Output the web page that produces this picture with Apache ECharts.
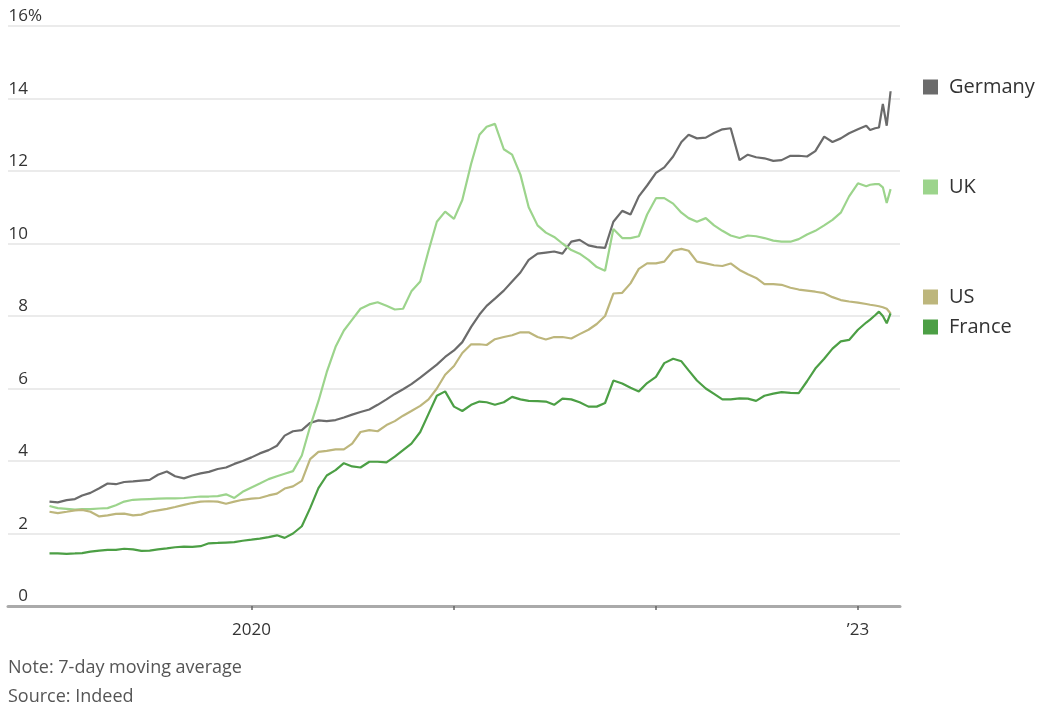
<!DOCTYPE html>
<html>
<head>
<meta charset="utf-8">
<script src="https://cdn.jsdelivr.net/npm/echarts@6/dist/echarts.min.js"></script>
<style>
  html, body { margin: 0; padding: 0; background: #fff; }
  #jobs-chart { width: 1040px; height: 708px; }
</style>
</head>
<body>
<div id="jobs-chart"></div>
<script>
// twice a month, weekly at the very end
const dates = [
  '2019-01-01', '2019-01-16', '2019-02-01', '2019-02-16', '2019-03-01', '2019-03-16', '2019-04-01', '2019-04-16', '2019-05-01', '2019-05-16', '2019-06-01', '2019-06-16',
  '2019-07-01', '2019-07-16', '2019-08-01', '2019-08-16', '2019-09-01', '2019-09-16', '2019-10-01', '2019-10-16', '2019-11-01', '2019-11-16', '2019-12-01', '2019-12-16',
  '2020-01-01', '2020-01-16', '2020-02-01', '2020-02-16', '2020-03-01', '2020-03-16', '2020-04-01', '2020-04-16', '2020-05-01', '2020-05-16', '2020-06-01', '2020-06-16',
  '2020-07-01', '2020-07-16', '2020-08-01', '2020-08-16', '2020-09-01', '2020-09-16', '2020-10-01', '2020-10-16', '2020-11-01', '2020-11-16', '2020-12-01', '2020-12-16',
  '2021-01-01', '2021-01-16', '2021-02-01', '2021-02-16', '2021-03-01', '2021-03-16', '2021-04-01', '2021-04-16', '2021-05-01', '2021-05-16', '2021-06-01', '2021-06-16',
  '2021-07-01', '2021-07-16', '2021-08-01', '2021-08-16', '2021-09-01', '2021-09-16', '2021-10-01', '2021-10-16', '2021-11-01', '2021-11-16', '2021-12-01', '2021-12-16',
  '2022-01-01', '2022-01-16', '2022-02-01', '2022-02-16', '2022-03-01', '2022-03-16', '2022-04-01', '2022-04-16', '2022-05-01', '2022-05-16', '2022-06-01', '2022-06-16',
  '2022-07-01', '2022-07-16', '2022-08-01', '2022-08-16', '2022-09-01', '2022-09-16', '2022-10-01', '2022-10-16', '2022-11-01', '2022-11-16', '2022-12-01', '2022-12-16',
  '2023-01-01', '2023-01-16', '2023-01-23', '2023-02-01', '2023-02-08', '2023-02-15', '2023-02-22', '2023-03-01'
]

const germany = [
  2.88, 2.86, 2.92, 2.95, 3.05, 3.12, 3.25, 3.38, 3.36, 3.42, 3.44, 3.46,
  3.48, 3.62, 3.71, 3.58, 3.52, 3.6, 3.66, 3.7, 3.78, 3.82, 3.92, 4.0,
  4.1, 4.21, 4.3, 4.42, 4.7, 4.82, 4.85, 5.05, 5.12, 5.1, 5.13, 5.2,
  5.28, 5.35, 5.42, 5.55, 5.7, 5.85, 5.98, 6.12, 6.3, 6.48, 6.66, 6.87,
  7.05, 7.28, 7.7, 8.04, 8.28, 8.48, 8.7, 8.95, 9.2, 9.55, 9.72, 9.75,
  9.78, 9.72, 10.05, 10.1, 9.95, 9.9, 9.88, 10.6, 10.9, 10.8, 11.3, 11.6,
  11.95, 12.1, 12.4, 12.8, 13.0, 12.9, 12.92, 13.05, 13.15, 13.18, 12.3, 12.45,
  12.38, 12.35, 12.28, 12.3, 12.42, 12.42, 12.4, 12.55, 12.95, 12.8, 12.9, 13.04,
  13.15, 13.25, 13.13, 13.18, 13.2, 13.85, 13.25, 14.2
]

const uk = [
  2.76, 2.7, 2.68, 2.66, 2.67, 2.67, 2.69, 2.7, 2.78, 2.88, 2.93, 2.94,
  2.95, 2.96, 2.97, 2.97, 2.98, 3.0, 3.02, 3.02, 3.03, 3.08, 2.98, 3.15,
  3.27, 3.38, 3.5, 3.58, 3.65, 3.72, 4.15, 4.95, 5.65, 6.45, 7.15, 7.6,
  7.9, 8.2, 8.32, 8.38, 8.28, 8.18, 8.2, 8.68, 8.95, 9.8, 10.6, 10.88,
  10.68, 11.2, 12.2, 13.0, 13.22, 13.3, 12.6, 12.45, 11.9, 11.0, 10.5, 10.3,
  10.18, 10.0, 9.82, 9.72, 9.55, 9.35, 9.25, 10.4, 10.15, 10.15, 10.2, 10.8,
  11.25, 11.25, 11.1, 10.85, 10.7, 10.6, 10.7, 10.5, 10.35, 10.22, 10.15, 10.22,
  10.2, 10.15, 10.08, 10.05, 10.05, 10.12, 10.25, 10.35, 10.5, 10.65, 10.85, 11.3,
  11.66, 11.58, 11.62, 11.64, 11.64, 11.55, 11.12, 11.5
]

const us = [
  2.6, 2.56, 2.6, 2.64, 2.65, 2.6, 2.47, 2.5, 2.54, 2.55, 2.5, 2.52,
  2.6, 2.64, 2.68, 2.73, 2.79, 2.84, 2.88, 2.89, 2.88, 2.82, 2.88, 2.93,
  2.96, 2.98, 3.05, 3.1, 3.24, 3.3, 3.45, 4.05, 4.25, 4.28, 4.32, 4.32,
  4.48, 4.8, 4.85, 4.82, 4.99, 5.1, 5.25, 5.38, 5.52, 5.7, 6.0, 6.38,
  6.62, 6.98, 7.22, 7.22, 7.2, 7.36, 7.42, 7.47, 7.55, 7.55, 7.42, 7.35,
  7.42, 7.42, 7.38, 7.5, 7.62, 7.78, 8.0, 8.62, 8.64, 8.9, 9.3, 9.45,
  9.45, 9.5, 9.8, 9.85, 9.8, 9.5, 9.45, 9.4, 9.38, 9.45, 9.27, 9.15,
  9.05, 8.88, 8.88, 8.86, 8.78, 8.73, 8.7, 8.67, 8.63, 8.52, 8.44, 8.4,
  8.37, 8.33, 8.31, 8.29, 8.27, 8.24, 8.2, 8.07
]

const france = [
  1.45, 1.45, 1.44, 1.45, 1.46, 1.5, 1.53, 1.55, 1.55, 1.58, 1.56, 1.52,
  1.53, 1.56, 1.59, 1.62, 1.64, 1.63, 1.65, 1.73, 1.74, 1.75, 1.76, 1.8,
  1.83, 1.86, 1.9, 1.95, 1.88, 2.0, 2.2, 2.7, 3.25, 3.6, 3.75, 3.94,
  3.85, 3.82, 3.98, 3.98, 3.96, 4.12, 4.3, 4.48, 4.8, 5.3, 5.8, 5.92,
  5.5, 5.38, 5.55, 5.64, 5.62, 5.55, 5.62, 5.77, 5.7, 5.66, 5.65, 5.64,
  5.55, 5.72, 5.7, 5.62, 5.5, 5.5, 5.6, 6.22, 6.14, 6.02, 5.92, 6.15,
  6.32, 6.7, 6.82, 6.75, 6.5, 6.22, 6.0, 5.85, 5.7, 5.7, 5.73, 5.72,
  5.66, 5.8, 5.86, 5.9, 5.88, 5.87, 6.2, 6.55, 6.82, 7.1, 7.3, 7.34,
  7.62, 7.82, 7.9, 8.02, 8.12, 8.0, 7.8, 8.07
]

const countries = ['Germany', 'UK', 'US', 'France']
const colors = ['#6b6b6b', '#9cd48c', '#bdb67c', '#4c9f45']
const legendTops = [72, 172, 282, 312]

const yearTicks = ['2020-01-01', '2021-01-01', '2022-01-01', '2023-01-01']
const yearLabels = ['2020-01-01', '2023-01-01']

const FONT = '"Open Sans", sans-serif'
const toTime = d => +echarts.time.parse(d)

const myChart = echarts.init(document.getElementById('jobs-chart'))
const values = [germany, uk, us, france]

myChart.setOption({
  animation: false,
  grid: {
    left: 8,
    right: 140,
    top: 26,
    bottom: 102,
    outerBoundsMode: 'none'
  },
  legend: countries.map((name, i) => ({
    data: [name],
    left: 918,
    top: legendTops[i],
    icon: 'rect',
    itemWidth: 15,
    itemHeight: 15,
    textStyle: {
      fontFamily: FONT,
      fontSize: 20,
      color: '#333',
      padding: [0, 0, 0, 6]
    }
  })),
  // dates as timestamps on a value axis so the year ticks can be picked by hand
  xAxis: {
    type: 'value',
    min: toTime('2018-10-18'),
    max: toTime('2023-03-18'),
    axisLine: {
      lineStyle: { color: '#aaa', width: 3 }
    },
    axisTick: {
      customValues: yearTicks.map(toTime),
      length: 4,
      lineStyle: { color: '#666', width: 1.5 }
    },
    axisLabel: {
      customValues: yearLabels.map(toTime),
      margin: 16,
      fontFamily: FONT,
      fontSize: 17,
      color: '#333',
      formatter: v => (new Date(v).getFullYear() === 2020 ? '2020' : '\u201923')
    },
    splitLine: { show: false }
  },
  yAxis: {
    type: 'value',
    min: 0,
    max: 16,
    interval: 2,
    axisLine: { show: false },
    axisTick: { show: false },
    axisLabel: {
      inside: true,
      align: 'right',
      verticalAlign: 'bottom',
      margin: 20,
      padding: [0, 0, 1, 0],
      fontFamily: FONT,
      fontSize: 17,
      color: '#333'
    },
    splitLine: {
      lineStyle: { color: '#ebebeb', width: 2 }
    }
  },
  graphic: [
    {
      type: 'text',
      x: 28,
      y: 25,
      style: { text: '%', font: '17px ' + FONT, fill: '#333', verticalAlign: 'bottom' }
    },
    {
      type: 'text',
      x: 8,
      y: 668,
      style: { text: 'Note: 7-day moving average', font: '18px ' + FONT, fill: '#555', verticalAlign: 'middle' }
    },
    {
      type: 'text',
      x: 8,
      y: 697,
      style: { text: 'Source: Indeed', font: '18px ' + FONT, fill: '#555', verticalAlign: 'middle' }
    }
  ],
  series: countries.map((name, i) => ({
    name: name,
    type: 'line',
    color: colors[i],
    showSymbol: false,
    lineStyle: { width: 2.2 },
    data: dates.map((d, k) => [toTime(d), values[i][k]])
  }))
})
</script>
</body>
</html>
